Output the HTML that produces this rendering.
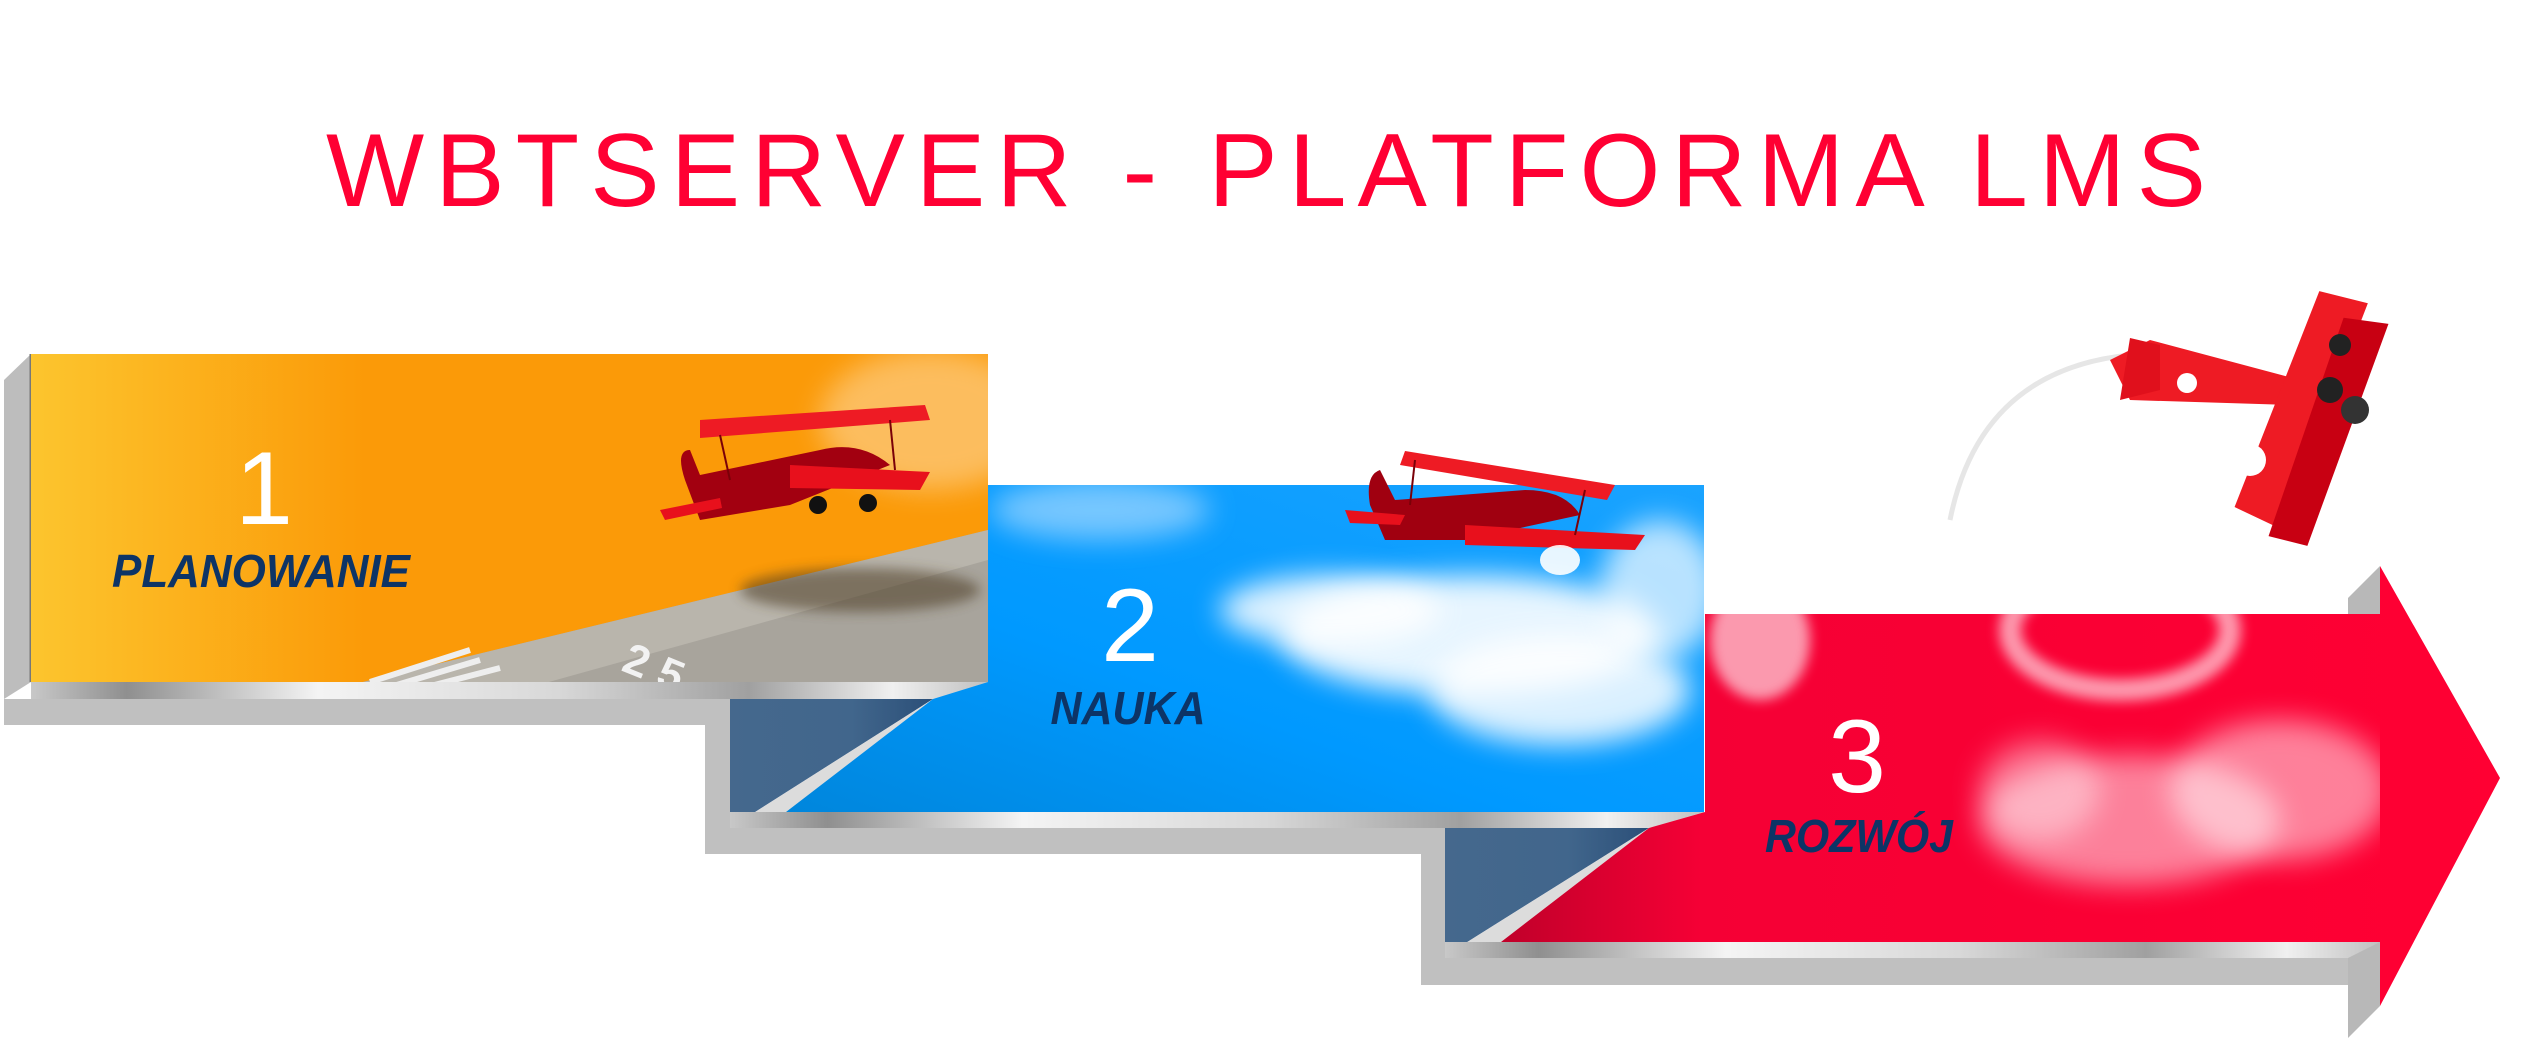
<!DOCTYPE html>
<html><head><meta charset="utf-8"><style>
html,body{margin:0;padding:0;background:#fff;}
svg{display:block;}
</style></head><body>
<svg width="2522" height="1038" viewBox="0 0 2522 1038" xmlns="http://www.w3.org/2000/svg">
<defs>
<linearGradient id="or" x1="0" x2="1" y1="0" y2="0">
<stop offset="0" stop-color="#fcc52e"/><stop offset="0.35" stop-color="#fb9a08"/><stop offset="1" stop-color="#fb9a08"/>
</linearGradient>
<linearGradient id="bl" x1="0" x2="1" y1="1" y2="0">
<stop offset="0" stop-color="#0086dc"/><stop offset="0.4" stop-color="#0099ff"/><stop offset="1" stop-color="#1aa3ff"/>
</linearGradient>
<linearGradient id="rd" x1="0" x2="1" y1="0" y2="0">
<stop offset="0" stop-color="#c0002a"/><stop offset="0.2" stop-color="#f50035"/><stop offset="1" stop-color="#ff0033"/>
</linearGradient>
<linearGradient id="sil" x1="0" x2="1" y1="0" y2="0">
<stop offset="0" stop-color="#c8c8c8"/><stop offset="0.1" stop-color="#8f8f8f"/><stop offset="0.3" stop-color="#f4f4f4"/><stop offset="0.55" stop-color="#d8d8d8"/><stop offset="0.75" stop-color="#a0a0a0"/><stop offset="0.9" stop-color="#f0f0f0"/><stop offset="1" stop-color="#c0c0c0"/>
</linearGradient>
<linearGradient id="nv" x1="0" x2="1"><stop offset="0" stop-color="#45688d"/><stop offset="0.6" stop-color="#41668c"/><stop offset="1" stop-color="#2b4f78"/></linearGradient>
<filter id="blur" x="-50%" y="-50%" width="200%" height="200%"><feGaussianBlur stdDeviation="14"/></filter>
<filter id="blur2" x="-50%" y="-50%" width="200%" height="200%"><feGaussianBlur stdDeviation="6"/></filter>
<clipPath id="cOr"><rect x="31" y="354" width="957" height="328"/></clipPath>
<clipPath id="cBl"><rect x="988" y="485" width="716" height="327"/></clipPath>
<clipPath id="cRd"><rect x="1705" y="614" width="675" height="328"/></clipPath>
</defs>

<text x="1266" y="206" text-anchor="middle" font-family="Liberation Sans, sans-serif" font-size="104" fill="#ff0033" textLength="1880" lengthAdjust="spacing">WBTSERVER - PLATFORMA LMS</text>

<!-- panel 1 depth -->
<polygon points="4,380 31,354 31,682 4,699" fill="#bdbdbd"/>
<line x1="31" y1="354" x2="31" y2="682" stroke="#777" stroke-width="3"/>
<rect x="4" y="699" width="701" height="26" fill="#c0c0c0"/>
<rect x="31" y="682" width="957" height="17" fill="url(#sil)"/>
<rect x="705" y="699" width="25" height="155" fill="#c0c0c0"/>
<polygon points="730,699 933,699 730,828" fill="url(#nv)"/>
<polygon points="988,682 933,699 730,828 786,812" fill="#dcdcdc"/>

<!-- orange panel -->
<rect x="31" y="354" width="957" height="328" fill="url(#or)"/>
<g clip-path="url(#cOr)">
<ellipse cx="930" cy="420" rx="110" ry="70" fill="#fff" opacity="0.35" filter="url(#blur)"/>
<polygon points="330,690 988,530 988,700 420,700" fill="#a8a49c"/>
<polygon points="330,690 988,530 988,560 520,690" fill="#b9b5ac"/>
<ellipse cx="860" cy="590" rx="120" ry="22" fill="#4b3a20" opacity="0.55" filter="url(#blur2)"/>
<text x="620" y="670" font-family="Liberation Sans, sans-serif" font-size="44" font-weight="bold" fill="#f2f2f2" transform="rotate(22 620 670)">2 5</text>
<g stroke="#eee" stroke-width="6"><line x1="370" y1="682" x2="470" y2="650"/><line x1="380" y1="690" x2="480" y2="660"/><line x1="400" y1="694" x2="500" y2="668"/></g>
</g>
<g transform="translate(660,410)">
<path d="M40,10 L265,-5 L270,10 L40,28 Z" fill="#ee1b24"/>
<path d="M25,70 Q15,40 30,40 L40,65 L160,40 Q200,30 230,55 L130,95 L40,110 Z" fill="#a20010"/>
<path d="M130,55 L270,62 L260,80 L130,78 Z" fill="#e8101c"/>
<path d="M0,100 L60,88 L62,98 L5,110 Z" fill="#e8101c"/>
<circle cx="158" cy="95" r="9" fill="#111"/><circle cx="208" cy="93" r="9" fill="#111"/>
<g stroke="#7a0008" stroke-width="2"><line x1="60" y1="25" x2="70" y2="70"/><line x1="230" y1="10" x2="235" y2="60"/></g>
</g>

<rect x="730" y="812" width="974" height="16" fill="url(#sil)"/>
<rect x="705" y="828" width="740" height="26" fill="#c0c0c0"/>
<rect x="1421" y="828" width="24" height="157" fill="#c0c0c0"/>
<polygon points="1445,828 1649,828 1445,956" fill="url(#nv)"/>
<polygon points="1704,812 1649,828 1445,956 1501,942" fill="#dcdcdc"/>

<polygon points="988,485 1704,485 1704,812 786,812 933,699 988,682" fill="url(#bl)"/>
<g clip-path="url(#cBl)">
<ellipse cx="1100" cy="510" rx="110" ry="30" fill="#bfe3ff" opacity="0.6" filter="url(#blur)"/>
<ellipse cx="1470" cy="635" rx="190" ry="60" fill="#fff" opacity="0.9" filter="url(#blur)"/>
<ellipse cx="1330" cy="610" rx="110" ry="35" fill="#fff" opacity="0.85" filter="url(#blur)"/>
<ellipse cx="1560" cy="690" rx="130" ry="55" fill="#fff" opacity="0.85" filter="url(#blur)"/>
<ellipse cx="1660" cy="590" rx="60" ry="70" fill="#fff" opacity="0.7" filter="url(#blur)"/>
</g>
<g transform="translate(1345,445)">
<path d="M60,6 L270,40 L262,55 L55,20 Z" fill="#ee1b24"/>
<path d="M25,60 Q20,30 35,25 L50,55 L180,45 Q220,45 235,70 L120,95 L40,95 Z" fill="#a00010"/>
<path d="M120,80 L300,90 L290,105 L120,100 Z" fill="#e8101c"/>
<path d="M0,65 L60,70 L55,80 L5,78 Z" fill="#e8101c"/>
<ellipse cx="215" cy="115" rx="20" ry="15" fill="#fff" opacity="0.9"/>
<g stroke="#7a0008" stroke-width="2"><line x1="70" y1="15" x2="65" y2="60"/><line x1="240" y1="45" x2="230" y2="90"/></g>
</g>

<rect x="1445" y="942" width="935" height="16" fill="url(#sil)"/>
<rect x="1421" y="958" width="959" height="27" fill="#c0c0c0"/>
<polygon points="2348,598 2380,566 2380,614 2348,614" fill="#b8b8b8"/>
<polygon points="2348,958 2380,942 2380,1006 2348,1038" fill="#b8b8b8"/>
<polygon points="1705,614 2380,614 2380,566 2500,778 2380,1006 2380,942 1501,942 1649,828 1705,812" fill="url(#rd)"/>
<g clip-path="url(#cRd)">
<ellipse cx="1760" cy="640" rx="50" ry="60" fill="#fff" opacity="0.6" filter="url(#blur2)"/>
<ellipse cx="2120" cy="630" rx="110" ry="60" fill="none" stroke="#fff" stroke-width="22" opacity="0.6" filter="url(#blur2)"/>
<ellipse cx="2130" cy="820" rx="150" ry="65" fill="#fff" opacity="0.5" filter="url(#blur)"/>
<ellipse cx="2280" cy="790" rx="110" ry="70" fill="#fff" opacity="0.5" filter="url(#blur)"/>
<ellipse cx="2040" cy="790" rx="60" ry="50" fill="#fff" opacity="0.4" filter="url(#blur)"/>
</g>
<path d="M1950,520 Q1980,370 2130,355" fill="none" stroke="#e6e6e6" stroke-width="5"/>
<g>
<path d="M2110,360 L2150,340 L2300,380 L2290,405 L2130,400 Z" fill="#ee1b24"/>
<path d="M2130,338 L2160,345 L2160,390 L2120,400 Z" fill="#e0101c"/>
<path d="M2290,290 L2340,290 L2310,530 L2260,520 Z" fill="#ee1b24" transform="rotate(14 2300 410)"/>
<path d="M2320,310 L2365,305 L2340,540 L2300,540 Z" fill="#c80012" transform="rotate(14 2300 410)"/>
<circle cx="2330" cy="390" r="13" fill="#222"/><circle cx="2340" cy="345" r="11" fill="#222"/>
<circle cx="2355" cy="410" r="14" fill="#333"/>
<circle cx="2250" cy="460" r="16" fill="#fff"/>
<circle cx="2187" cy="383" r="10" fill="#fff"/>
</g>

<g font-family="Liberation Sans, sans-serif">
<text x="264" y="524" text-anchor="middle" font-size="104" fill="#fff">1</text>
<text x="1130" y="661" text-anchor="middle" font-size="104" fill="#fff">2</text>
<text x="1857" y="792" text-anchor="middle" font-size="104" fill="#fff">3</text>
<text x="261" y="587" text-anchor="middle" font-size="46" font-weight="bold" font-style="italic" fill="#0d3466" textLength="298" lengthAdjust="spacingAndGlyphs">PLANOWANIE</text>
<text x="1128" y="724" text-anchor="middle" font-size="46" font-weight="bold" font-style="italic" fill="#0d3466" textLength="155" lengthAdjust="spacingAndGlyphs">NAUKA</text>
<text x="1859" y="852" text-anchor="middle" font-size="46" font-weight="bold" font-style="italic" fill="#0d3466" textLength="188" lengthAdjust="spacingAndGlyphs">ROZWÓJ</text>
</g>
</svg>
</body></html>
